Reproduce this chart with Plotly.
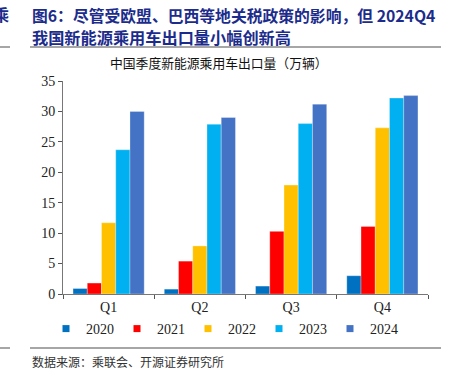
import plotly.graph_objects as go

quarters = ["Q1", "Q2", "Q3", "Q4"]
years = ["2020", "2021", "2022", "2023", "2024"]
v2020 = [0.9, 0.8, 1.3, 3.0]
v2021 = [1.8, 5.4, 10.3, 11.1]
v2022 = [11.7, 7.9, 17.9, 27.3]
v2023 = [23.7, 27.9, 28.0, 32.2]
v2024 = [30.0, 29.0, 31.2, 32.6]
series = [v2020, v2021, v2022, v2023, v2024]
colors = ["#0070C0", "#FF0000", "#FFC000", "#00B0F0", "#4472C4"]
yticks = [0, 5, 10, 15, 20, 25, 30, 35]

W, H = 451, 372
L, R, T, B = 63, 428, 81, 294

def px(x):
    return (x - L) / (R - L)

def py(y):
    return (B - y) / (B - T)

fig = go.Figure()
for name, vals, c in zip(years, series, colors):
    fig.add_trace(go.Bar(x=quarters, y=vals, name=name, marker_color=c,
                         marker_line_color="rgba(255,255,255,0.6)", marker_line_width=0.5,
                         showlegend=False, legendgroup=name))
    # legend entry with a small square symbol
    fig.add_trace(go.Scatter(x=[None], y=[None], mode="markers", name=name, legendgroup=name,
                             marker=dict(symbol="square", size=7, color=c)))

serif = "Liberation Serif, Times New Roman, serif"
cjk = "Noto Sans CJK SC"
fig.update_layout(
    width=W, height=H,
    margin=dict(l=L, r=W - R, t=T, b=H - B, autoexpand=False),
    paper_bgcolor="white", plot_bgcolor="white",
    barmode="group", bargap=0.22, bargroupgap=0,
    showlegend=True,
    legend=dict(orientation="h", xref="container", yref="container",
                x=46 / W, xanchor="left", y=1 - 329 / H, yanchor="middle",
                font=dict(family=serif, size=14, color="#222"),
                entrywidth=26, entrywidthmode="pixels", itemwidth=30,
                traceorder="normal", bgcolor="rgba(0,0,0,0)"),
    xaxis=dict(showline=True, linecolor="#777", linewidth=1, ticks="outside",
               tickson="boundaries", ticklen=4, tickcolor="#555",
               tickfont=dict(family=serif, size=14, color="#222"), showgrid=False),
    yaxis=dict(range=[0, 35], tickvals=yticks, showline=True, linecolor="#777", linewidth=1,
               ticks="outside", ticklen=4, tickcolor="#555", showgrid=False, zeroline=False,
               tickfont=dict(family=serif, size=14, color="#222")),
)

title_color = "#1C2C8C"
anns = [
    dict(text="<b>图6：尽管受欧盟、巴西等地关税政策的影响，但 2024Q4</b>", x=px(30), y=py(15),
         font=dict(family=cjk, size=15.8, color=title_color)),
    dict(text="<b>我国新能源乘用车出口量小幅创新高</b>", x=px(30), y=py(37),
         font=dict(family=cjk, size=16.2, color=title_color)),
    dict(text="中国季度新能源乘用车出口量（万辆）", x=px(108), y=py(62),
         font=dict(family=cjk, size=12.8, color="#111")),
    dict(text="数据来源：乘联会、开源证券研究所", x=px(30), y=py(361),
         font=dict(family=cjk, size=12, color="#333")),
    dict(text="<b>乘</b>", x=px(-9), y=py(14),
         font=dict(family=cjk, size=16.2, color=title_color)),
]
for a in anns:
    fig.add_annotation(xref="paper", yref="paper", xanchor="left", yanchor="middle",
                       showarrow=False, **a)

for (x0, x1, y) in [(30, 441, 47), (0, 10, 47), (30, 441, 348), (0, 10, 348)]:
    fig.add_shape(type="line", xref="paper", yref="paper", x0=px(x0), x1=px(x1),
                  y0=py(y), y1=py(y), line=dict(color="#888", width=1.5))

fig.write_html("out.html", config={"displayModeBar": False},
               post_script="document.body.style.margin='0';document.body.style.padding='0';")
